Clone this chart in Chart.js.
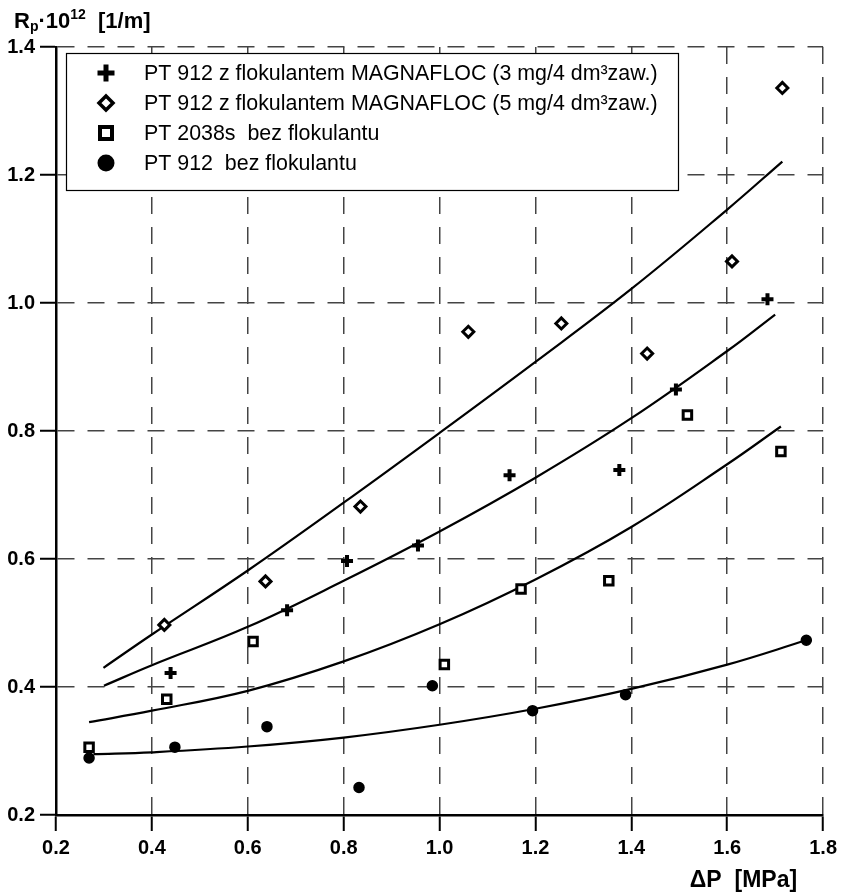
<!DOCTYPE html>
<html>
<head>
<meta charset="utf-8">
<script src="https://cdn.jsdelivr.net/npm/chart.js@4.4.1/dist/chart.umd.min.js"></script>
<style>
  html, body { margin: 0; padding: 0; background: #fff; }
  canvas { display: block; }
</style>
</head>
<body>
<canvas id="chart" width="842" height="893"></canvas>
<script>
// Punkty pomiarowe (dP [MPa], Rp*10^12 [1/m])
const flok3X = [0.439, 0.682, 0.807, 0.955, 1.146, 1.375, 1.493, 1.684];
const flok3Y = [0.422, 0.520, 0.597, 0.621, 0.731, 0.739, 0.865, 1.006];

const flok5X = [0.426, 0.637, 0.835, 1.060, 1.254, 1.433, 1.610, 1.715];
const flok5Y = [0.497, 0.565, 0.682, 0.955, 0.968, 0.921, 1.065, 1.336];

const pt2038X = [0.269, 0.431, 0.611, 1.010, 1.170, 1.353, 1.517, 1.712];
const pt2038Y = [0.306, 0.381, 0.471, 0.435, 0.553, 0.566, 0.825, 0.768];

const pt912X = [0.269, 0.448, 0.640, 0.832, 0.985, 1.194, 1.388, 1.765];
const pt912Y = [0.289, 0.306, 0.338, 0.243, 0.402, 0.363, 0.388, 0.473];

// Krzywe dopasowania
const fit5X = [0.299, 0.40, 0.60, 0.80, 1.00, 1.20, 1.40, 1.60, 1.715];
const fit5Y = [0.430, 0.482, 0.582, 0.688, 0.797, 0.908, 1.022, 1.146, 1.221];

const fit3X = [0.30, 0.40, 0.60, 0.80, 1.00, 1.20, 1.40, 1.60, 1.70];
const fit3Y = [0.402, 0.434, 0.494, 0.566, 0.643, 0.727, 0.820, 0.925, 0.982];

const fit2038X = [0.269, 0.40, 0.60, 0.80, 1.00, 1.20, 1.40, 1.60, 1.712];
const fit2038Y = [0.345, 0.363, 0.394, 0.440, 0.498, 0.568, 0.650, 0.748, 0.807];

const fit912X = [0.278, 0.40, 0.60, 0.80, 1.00, 1.20, 1.40, 1.60, 1.765];
const fit912Y = [0.295, 0.298, 0.307, 0.321, 0.341, 0.366, 0.397, 0.435, 0.473];

// Opisy serii i osi
const seriesLabels = [
    'PT 912 z flokulantem MAGNAFLOC (3 mg/4 dm³zaw.)',
    'PT 912 z flokulantem MAGNAFLOC (5 mg/4 dm³zaw.)',
    'PT 2038s  bez flokulantu',
    'PT 912  bez flokulantu'
];
const xTicks = [0.2, 0.4, 0.6, 0.8, 1.0, 1.2, 1.4, 1.6, 1.8];
const yTicks = [0.2, 0.4, 0.6, 0.8, 1.0, 1.2, 1.4];

const FONT = '"Liberation Sans", Arial, Helvetica, sans-serif';

function toPoints(xs, ys) {
    return xs.map((x, i) => ({ x: x, y: ys[i] }));
}

function fitLine(xs, ys) {
    return {
        type: 'scatter',
        data: toPoints(xs, ys),
        showLine: true,
        borderColor: '#000',
        borderWidth: 2.2,
        pointRadius: 0,
        tension: 0.4,
        fill: false,
        isFit: true
    };
}

// Znaczniki legendy rysowane recznie
function drawMarker(ctx, kind, x, y) {
    ctx.save();
    ctx.fillStyle = '#000';
    ctx.strokeStyle = '#000';
    if (kind === 'plus') {
        ctx.fillRect(x - 8.5, y - 2.5, 17, 5);
        ctx.fillRect(x - 2.5, y - 8.5, 5, 17);
    } else if (kind === 'diamond') {
        ctx.lineWidth = 3.5;
        ctx.fillStyle = '#fff';
        ctx.beginPath();
        ctx.moveTo(x, y - 7);
        ctx.lineTo(x + 7, y);
        ctx.lineTo(x, y + 7);
        ctx.lineTo(x - 7, y);
        ctx.closePath();
        ctx.fill();
        ctx.stroke();
    } else if (kind === 'square') {
        ctx.lineWidth = 4;
        ctx.fillStyle = '#fff';
        ctx.fillRect(x - 6, y - 6, 12, 12);
        ctx.strokeRect(x - 6, y - 6, 12, 12);
    } else {
        ctx.beginPath();
        ctx.arc(x, y, 8.5, 0, Math.PI * 2);
        ctx.fill();
    }
    ctx.restore();
}

const legendAndTitles = {
    id: 'legendAndTitles',
    afterDraw(chart) {
        const ctx = chart.ctx;
        const area = chart.chartArea;
        ctx.save();

        // ramka legendy
        const bx = area.left + 10, by = area.top + 6, bw = 612, bh = 137;
        ctx.fillStyle = '#fff';
        ctx.fillRect(bx, by, bw, bh);
        ctx.strokeStyle = '#000';
        ctx.lineWidth = 1.2;
        ctx.strokeRect(bx + 0.5, by + 0.5, bw, bh);

        const items = chart.data.datasets.filter(d => !d.isFit);
        ctx.font = '21.4px ' + FONT;
        ctx.fillStyle = '#000';
        ctx.textBaseline = 'middle';
        ctx.textAlign = 'left';
        items.forEach((d, i) => {
            const y = by + 20 + i * 30;
            drawMarker(ctx, d.legendMarker, bx + 40, y);
            ctx.fillStyle = '#000';
            ctx.fillText(d.label, bx + 78, y + 1);
        });

        // tytul osi Y: Rp·10^12 [1/m]
        ctx.textBaseline = 'alphabetic';
        let x = 14;
        const base = 28;
        ctx.font = 'bold 22px ' + FONT;
        ctx.fillText('R', x, base);
        x += ctx.measureText('R').width;
        ctx.font = 'bold 14px ' + FONT;
        ctx.fillText('p', x, base + 3);
        x += ctx.measureText('p').width;
        ctx.font = 'bold 22px ' + FONT;
        ctx.fillText('·10', x, base);
        x += ctx.measureText('·10').width;
        ctx.font = 'bold 14px ' + FONT;
        ctx.fillText('12', x, base - 9);
        x += ctx.measureText('12').width;
        ctx.font = 'bold 22px ' + FONT;
        ctx.fillText('  [1/m]', x, base);

        // tytul osi X
        ctx.textAlign = 'right';
        ctx.font = 'bold 23px ' + FONT;
        ctx.fillText('\u0394P  [MPa]', area.right - 26, 887);
        ctx.restore();
    }
};

const tickFont = { family: FONT, size: 20, weight: 'bold' };

const chart = new Chart(document.getElementById('chart').getContext('2d'), {
    type: 'scatter',
    data: {
        datasets: [
            {
                label: seriesLabels[0],
                data: toPoints(flok3X, flok3Y),
                pointStyle: 'cross',
                radius: 6,
                borderWidth: 4,
                borderColor: '#000',
                backgroundColor: '#000',
                legendMarker: 'plus'
            },
            {
                label: seriesLabels[1],
                data: toPoints(flok5X, flok5Y),
                pointStyle: 'rectRot',
                radius: 5.5,
                borderWidth: 3,
                borderColor: '#000',
                backgroundColor: '#fff',
                legendMarker: 'diamond'
            },
            {
                label: seriesLabels[2],
                data: toPoints(pt2038X, pt2038Y),
                pointStyle: 'rect',
                radius: 6,
                borderWidth: 3,
                borderColor: '#000',
                backgroundColor: '#fff',
                legendMarker: 'square'
            },
            {
                label: seriesLabels[3],
                data: toPoints(pt912X, pt912Y),
                pointStyle: 'circle',
                radius: 5,
                borderWidth: 1.5,
                borderColor: '#000',
                backgroundColor: '#000',
                legendMarker: 'circle'
            },
            fitLine(fit5X, fit5Y),
            fitLine(fit3X, fit3Y),
            fitLine(fit2038X, fit2038Y),
            fitLine(fit912X, fit912Y)
        ]
    },
    options: {
        responsive: false,
        animation: false,
        devicePixelRatio: 1,
        events: [],
        layout: { padding: { top: 47, right: 18, left: 0, bottom: 0 } },
        plugins: {
            legend: { display: false },
            tooltip: { enabled: false }
        },
        scales: {
            x: {
                type: 'linear',
                min: xTicks[0],
                max: xTicks[xTicks.length - 1],
                afterBuildTicks: s => { s.ticks = xTicks.map(v => ({ value: v })); },
                afterFit: s => { s.height = 78; },
                ticks: {
                    font: tickFont,
                    color: '#000',
                    padding: 5,
                    maxRotation: 0,
                    autoSkip: false,
                    callback: v => Number(v).toFixed(1)
                },
                grid: {
                    color: '#444',
                    lineWidth: 1.5,
                    tickColor: '#000',
                    tickWidth: 2,
                    tickLength: 16,
                    tickBorderDash: []
                },
                border: { color: '#000', width: 2.5, dash: [17, 13] }
            },
            y: {
                type: 'linear',
                min: yTicks[0],
                max: yTicks[yTicks.length - 1],
                afterBuildTicks: s => { s.ticks = yTicks.map(v => ({ value: v })); },
                afterFit: s => { s.width = 56; },
                ticks: {
                    font: tickFont,
                    color: '#000',
                    padding: 5,
                    autoSkip: false,
                    callback: v => Number(v).toFixed(1)
                },
                grid: {
                    color: '#444',
                    lineWidth: 1.5,
                    tickColor: '#000',
                    tickWidth: 2,
                    tickLength: 16,
                    tickBorderDash: []
                },
                border: { color: '#000', width: 2.5, dash: [17, 13] }
            }
        }
    },
    plugins: [legendAndTitles]
});
</script>
</body>
</html>
